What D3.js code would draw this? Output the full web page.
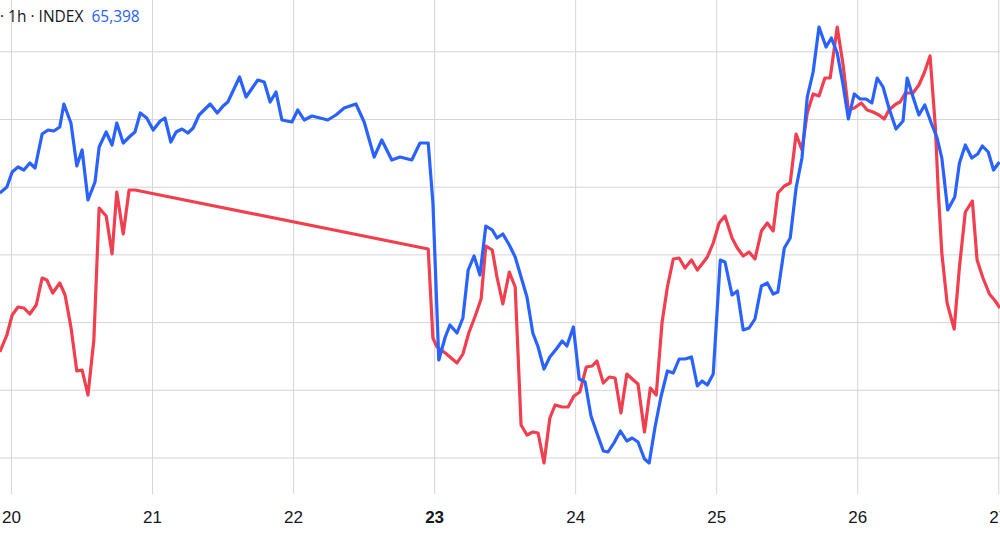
<!DOCTYPE html>
<html>
<head>
<meta charset="utf-8">
<script src="https://cdn.jsdelivr.net/npm/d3@7"></script>
<style>
  body { margin: 0; background: #fff; }
  svg { display: block; font-family: "Open Sans", "Noto Sans", sans-serif; }
</style>
</head>
<body>
<svg id="chart" width="1000" height="536"></svg>
<script>
// hours since Nov 20 00:00, index value
const blueSeries = [
  [-1.9,62650],[-0.7,62710],[0.2,62860],[1.2,62910],[2.2,62880],[3.2,62950],[4.1,62900],[5.3,63240],[6.3,63280],[7.3,63270],
  [8.3,63310],[9.0,63540],[10.2,63350],[11.2,62920],[12.1,63080],[13.1,62580],[14.3,62760],[15.0,63110],[16.2,63260],[17.2,63130],
  [18.0,63350],[19.1,63150],[20.3,63220],[21.1,63260],[22.0,63450],[23.1,63400],[24.2,63280],[25.4,63370],[26.2,63400],[27.2,63160],
  [28.1,63260],[29.1,63290],[30.1,63250],[31.0,63300],[32.0,63430],[33.9,63540],[35.1,63450],[36.1,63520],[36.9,63560],[38.9,63810],
  [40.0,63610],[42.0,63780],[43.1,63760],[44.1,63560],[45.1,63660],[46.1,63380],[47.8,63360],[48.8,63480],[49.9,63380],[51.2,63420],
  [52.6,63400],[53.9,63380],[55.3,63430],[56.7,63500],[58.7,63540],[60.1,63360],[61.8,63010],[63.1,63180],[64.8,62980],[66.2,63010],
  [68.2,62980],[69.6,63150],[71.0,63150],[71.8,62550],[72.8,60980],[73.9,61210],[74.7,61330],[75.9,61250],[76.9,61400],[77.8,61880],
  [78.8,62020],[79.8,61830],[80.8,62320],[81.9,62280],[82.7,62200],[83.7,62240],[84.8,62130],[85.8,62010],[86.8,61810],[87.8,61610],
  [88.8,61250],[89.7,61110],[90.7,60890],[91.7,61010],[92.8,61090],[93.8,61170],[94.6,61120],[95.7,61310],[96.7,60790],[97.7,60760],
  [98.7,60420],[99.7,60250],[100.8,60070],[101.6,60060],[102.6,60150],[103.7,60270],[104.8,60170],[105.7,60200],[106.7,60160],[107.8,59990],
  [108.6,59950],[109.6,60310],[110.6,60610],[111.7,60870],[112.7,60850],[113.7,60990],[114.7,60990],[115.8,61010],[116.8,60720],[117.6,60770],
  [118.5,60730],[119.5,60840],[120.7,61980],[121.5,61960],[122.7,61630],[123.6,61670],[124.6,61280],[125.6,61300],[126.6,61390],[127.7,61720],
  [128.7,61750],[129.7,61640],[130.5,61660],[131.6,62100],[132.6,62200],[133.6,62700],[134.6,63000],[135.5,63610],[136.5,63860],[137.5,64310],
  [138.7,64110],[139.6,64200],[140.6,64050],[141.6,63730],[142.5,63390],[143.5,63640],[144.5,63590],[145.5,63590],[146.5,63550],[147.4,63800],
  [148.4,63710],[149.4,63500],[150.6,63290],[151.8,63370],[152.5,63800],[153.5,63610],[154.5,63430],[155.5,63530],[156.6,63350],[157.6,63200],
  [158.4,63000],[159.4,62480],[160.6,62610],[161.4,62950],[162.4,63130],[163.5,63000],[164.5,63040],[165.3,63120],[166.3,63060],[167.2,62880],
  [168.2,62960]
];
const redSeries = [
  [-1.9,61060],[-0.7,61230],[0.2,61430],[1.2,61510],[2.2,61500],[3.2,61440],[4.3,61530],[5.3,61800],[6.1,61780],[7.1,61650],
  [8.3,61750],[9.2,61630],[10.2,61310],[11.2,60870],[12.1,60880],[13.1,60630],[14.1,61180],[15.0,62500],[16.2,62420],[17.2,62040],
  [18.0,62660],[19.1,62240],[20.1,62680],[21.1,62680],[71.0,62090],[71.8,61200],[72.5,61110],[73.9,61050],[74.9,61000],[75.9,60950],
  [76.9,61040],[77.9,61250],[79.0,61420],[80.0,61590],[80.8,62120],[81.9,62080],[82.7,61810],[83.7,61540],[84.8,61860],[85.8,61710],
  [86.8,60330],[87.8,60230],[88.8,60260],[89.7,60250],[90.7,59950],[91.7,60400],[92.6,60530],[93.8,60510],[94.8,60510],[95.8,60620],
  [96.8,60660],[97.9,60910],[98.9,60920],[99.7,60970],[100.8,60750],[101.8,60810],[102.8,60800],[103.8,60450],[104.8,60840],[105.9,60780],
  [106.7,60740],[107.8,60260],[108.8,60700],[109.8,60630],[110.8,61360],[111.7,61710],[112.7,61990],[113.7,62000],[114.7,61900],[115.8,61980],
  [116.8,61880],[117.6,61940],[118.5,62010],[119.5,62150],[120.5,62350],[121.5,62420],[122.7,62200],[123.6,62100],[124.6,62020],[125.6,62060],
  [126.6,61990],[127.7,62270],[128.7,62350],[129.7,62270],[130.5,62650],[131.6,62720],[132.6,62750],[133.6,63240],[134.6,63080],[135.5,63450],
  [136.5,63640],[137.5,63620],[138.5,63800],[139.4,63800],[140.6,64310],[141.6,63930],[142.5,63480],[143.5,63500],[144.7,63550],[145.7,63480],
  [146.7,63460],[147.7,63430],[148.6,63390],[149.4,63480],[150.6,63540],[151.3,63560],[152.2,63650],[153.5,63650],[154.5,63730],[155.4,63850],
  [156.4,64020],[157.3,63310],[157.8,62660],[158.4,62050],[159.3,61550],[160.5,61290],[161.4,61910],[162.4,62460],[163.6,62570],[164.4,61980],
  [165.4,61800],[166.5,61640],[167.5,61570],[168.3,61500]
];
const dayTicks = [0, 24, 48, 72, 96, 120, 144, 168];
const dayLabels = ["20", "21", "22", "23", "24", "25", "26", "27"];
const boldDays = ["23"];
const gridValues = [60000, 60677, 61354, 62031, 62708, 63385, 64062];
const headerLabel = "· 1h · INDEX";
const headerValue = "65,398";

const width = 1000, height = 536, plotBottom = 494;
const svg = d3.select('#chart');

const x = d3.scaleLinear().domain([-1.87, 168.3]).range([0, width]);
const y = d3.scaleLinear().domain([59220, 64580]).range([height, 0]);

// grid
svg.append('g').selectAll('line.h')
    .data(gridValues).enter().append('line')
    .attr('x1', 0).attr('x2', width)
    .attr('y1', d => y(d)).attr('y2', d => y(d))
    .attr('stroke', '#d6d6d6').attr('stroke-width', 1);

const xAxis = d3.axisBottom(x)
    .tickValues(dayTicks)
    .tickSize(plotBottom)
    .tickFormat((d, i) => dayLabels[i]);
const xg = svg.append('g').call(xAxis);
xg.select('.domain').remove();
xg.selectAll('.tick line').attr('stroke', '#d6d6d6');
xg.selectAll('.tick text')
    .attr('dy', 0).attr('y', plotBottom + 29)
    .attr('fill', '#131722')
    .style('font-size', '17px')
    .style('font-weight', d => boldDays.includes(dayLabels[dayTicks.indexOf(d)]) ? '700' : '400');

const line = d3.line().x(d => x(d[0])).y(d => y(d[1]));

svg.append('path').datum(redSeries)
    .attr('d', line).attr('fill', 'none')
    .attr('stroke', '#f23f50').attr('stroke-width', 3.2)
    .attr('stroke-linejoin', 'round');
svg.append('path').datum(blueSeries)
    .attr('d', line).attr('fill', 'none')
    .attr('stroke', '#2962ff').attr('stroke-width', 3.2)
    .attr('stroke-linejoin', 'round');

// header
const header = svg.append('text').attr('x', 0).attr('y', 22).style('font-size', '15.5px');
header.append('tspan').attr('fill', '#131722').text(headerLabel);
header.append('tspan').attr('dx', 8).attr('fill', '#2962ff').text(headerValue);
</script>
</body>
</html>
